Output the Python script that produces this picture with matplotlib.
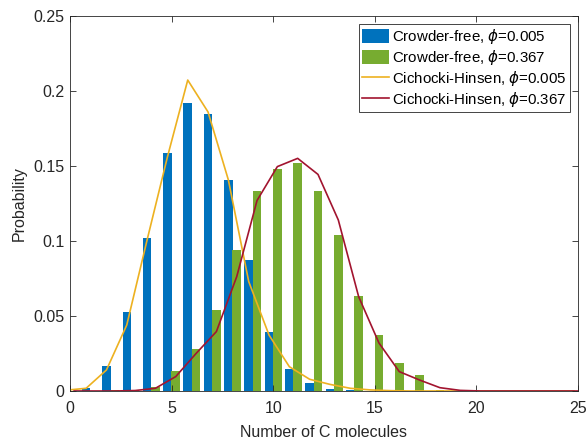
import numpy as np
import matplotlib
matplotlib.use("Agg")
import matplotlib.pyplot as plt

plt.rcParams['font.family'] = ['Liberation Sans', 'DejaVu Sans']
plt.rcParams['mathtext.fontset'] = 'dejavusans'

# number of C molecules
k = np.arange(0, 26)

# crowder-free histograms
free_005 = [0, 0.002, 0.0167, 0.0527, 0.102, 0.1587, 0.192, 0.1847, 0.1407, 0.0873,
            0.0393, 0.0149, 0.0053, 0.0016, 0.0005, 0, 0, 0, 0, 0,
            0, 0, 0, 0, 0, 0]
free_367 = [0, 0, 0.0007, 0.0007, 0.0027, 0.0133, 0.028, 0.054, 0.094, 0.1333,
            0.148, 0.1522, 0.1333, 0.104, 0.0633, 0.0373, 0.0189, 0.0107, 0.0007, 0,
            0, 0, 0, 0, 0, 0]

# Cichocki-Hinsen curves
ch_005 = [0.0005, 0.0018, 0.014, 0.044, 0.1007, 0.156, 0.2073, 0.186, 0.1407, 0.073,
          0.0373, 0.0162, 0.0078, 0.0044, 0.0018, 0.0007, 0.0002, 0, 0, 0,
          0, 0, 0, 0, 0, 0]
ch_367 = [0, 0, 0, 0.0003, 0.0018, 0.0096, 0.025, 0.0396, 0.0762, 0.127,
          0.1496, 0.1551, 0.1444, 0.114, 0.0629, 0.032, 0.0129, 0.0073, 0.0022, 0.0004,
          0, 0, 0, 0, 0, 0]

blue = '#0072BD'
green = '#77AC30'
yellow = '#EDB120'
red = '#A2142F'
dark = '#262626'

fig = plt.figure(figsize=(5.88, 4.4), dpi=100)
ax = fig.add_axes([0.119, 0.1114, 0.864, 0.8522])

off = 0.205
w = 0.42
b1 = ax.bar(k - off, free_005, width=w, color=blue)
b2 = ax.bar(k + off, free_367, width=w, color=green)
l1, = ax.plot(k - off, ch_005, color=yellow, lw=1.2)
l2, = ax.plot(k + off, ch_367, color=red, lw=1.2)

ax.set_xlim(0, 25)
ax.set_ylim(0, 0.25)
ax.set_xticks([0, 5, 10, 15, 20, 25])
ax.set_yticks([0, 0.05, 0.1, 0.15, 0.2, 0.25])
ax.set_yticklabels(['0', '0.05', '0.1', '0.15', '0.2', '0.25'])
ax.tick_params(direction='in', top=True, right=True, length=4, width=0.6,
               colors=dark, labelsize=11.5, pad=4)
ax.tick_params(axis='x', pad=7)
for s in ax.spines.values():
    s.set_color(dark)
    s.set_linewidth(0.6)

ax.set_xlabel('Number of C molecules', fontsize=11.5, color=dark, labelpad=7)
ax.set_ylabel('Probability', fontsize=11.5, color=dark, labelpad=5)

labels = [r'Crowder-free, $\phi$=0.005', r'Crowder-free, $\phi$=0.367',
          r'Cichocki-Hinsen, $\phi$=0.005', r'Cichocki-Hinsen, $\phi$=0.367']
leg = ax.legend([b1, b2, l1, l2], labels, loc='upper right', fontsize=10.8,
                frameon=True, fancybox=False, edgecolor=dark, framealpha=1,
                borderpad=0.2, labelspacing=0.12, handlelength=1.8,
                handleheight=1.0, handletextpad=0.2, borderaxespad=0.55)
leg.get_frame().set_linewidth(0.6)

fig.savefig('out.png', dpi=100)
